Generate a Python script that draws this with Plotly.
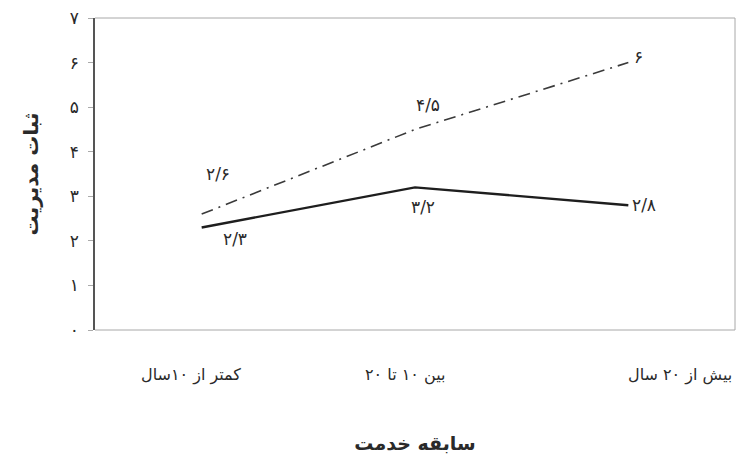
import plotly.graph_objects as go

# سابقه خدمت (categories) and ثبات مدیریت values
categories = ["کمتر از ۱۰سال", "بین ۱۰ تا ۲۰", "بیش از ۲۰ سال"]
solid_values = [2.3, 3.2, 2.8]
solid_labels = ["۲/۳", "۳/۲", "۲/۸"]
dash_values = [2.6, 4.5, 6.0]
dash_labels = ["۲/۶", "۴/۵", "۶"]
y_ticks = [0, 1, 2, 3, 4, 5, 6, 7]
y_tick_text = ["٠", "١", "٢", "٣", "۴", "۵", "۶", "٧"]

x_pos = list(range(len(categories)))
font_family = "DejaVu Sans"
ink = "#2a2a2a"

fig = go.Figure()

fig.add_trace(go.Scatter(
    x=x_pos, y=dash_values, mode="lines",
    line=dict(color="#3a3a3a", width=1.6, dash="12px,6px,2px,6px"),
    showlegend=False, hoverinfo="skip"
))
fig.add_trace(go.Scatter(
    x=x_pos, y=solid_values, mode="lines",
    line=dict(color="#1e1e1e", width=2.4),
    showlegend=False, hoverinfo="skip"
))

# data labels (offsets in pixels relative to each point)
solid_offsets = [(33, -12), (8, -20), (2, 0)]
dash_offsets = [(16, 40), (13, 24), (4, 6)]
for i, (v, t) in enumerate(zip(solid_values, solid_labels)):
    dx, dy = solid_offsets[i]
    fig.add_annotation(x=x_pos[i], y=v, text=t, showarrow=False,
                       xshift=dx, yshift=dy,
                       xanchor="left" if i == 2 else "center",
                       font=dict(family=font_family, size=17, color=ink))
for i, (v, t) in enumerate(zip(dash_values, dash_labels)):
    dx, dy = dash_offsets[i]
    fig.add_annotation(x=x_pos[i], y=v, text=t, showarrow=False,
                       xshift=dx, yshift=dy,
                       xanchor="left" if i == 2 else "center",
                       font=dict(family=font_family, size=17, color=ink))

# category labels below the plot
cat_anchor = [("center", -11), ("center", -10), ("right", 106)]
for i, c in enumerate(categories):
    anchor, dx = cat_anchor[i]
    fig.add_annotation(x=x_pos[i], y=0, yref="paper", text=c, showarrow=False,
                       xanchor=anchor, yanchor="middle", xshift=dx, yshift=-45,
                       font=dict(family=font_family, size=16, color=ink))

# light frame on top, right and bottom of the plot area
for x0, y0, x1, y1 in [(0, 1, 1, 1), (1, 0, 1, 1), (0, 0, 1, 0)]:
    fig.add_shape(type="line", xref="paper", yref="paper",
                  x0=x0, y0=y0, x1=x1, y1=y1,
                  line=dict(color="#a8a8a8", width=1))

fig.update_xaxes(
    range=[-0.5, 2.5], showticklabels=False, showgrid=False, zeroline=False,
    showline=False, automargin=False,
    title=dict(text="<b>سابقه خدمت</b>", standoff=106,
               font=dict(family=font_family, size=19, color=ink))
)
fig.update_yaxes(
    range=[0, 7], tickvals=y_ticks, ticktext=y_tick_text,
    showgrid=False, zeroline=False, automargin=False,
    showline=True, linecolor="#555555", linewidth=1.5,
    ticks="outside", ticklen=5, tickcolor="#aaaaaa", ticklabelstandoff=6,
    tickfont=dict(family=font_family, size=17, color=ink),
    title=dict(text="<b>ثبات مدیریت</b>", standoff=26,
               font=dict(family=font_family, size=20, color=ink))
)

fig.update_layout(
    width=741, height=469,
    margin=dict(l=95, r=6, t=18, b=139),
    plot_bgcolor="white", paper_bgcolor="white",
)

# drop the default page margin so the figure sits at the window's corner
fig.write_html("out.html", config={"displayModeBar": False},
               post_script="document.body.style.margin='0';")
